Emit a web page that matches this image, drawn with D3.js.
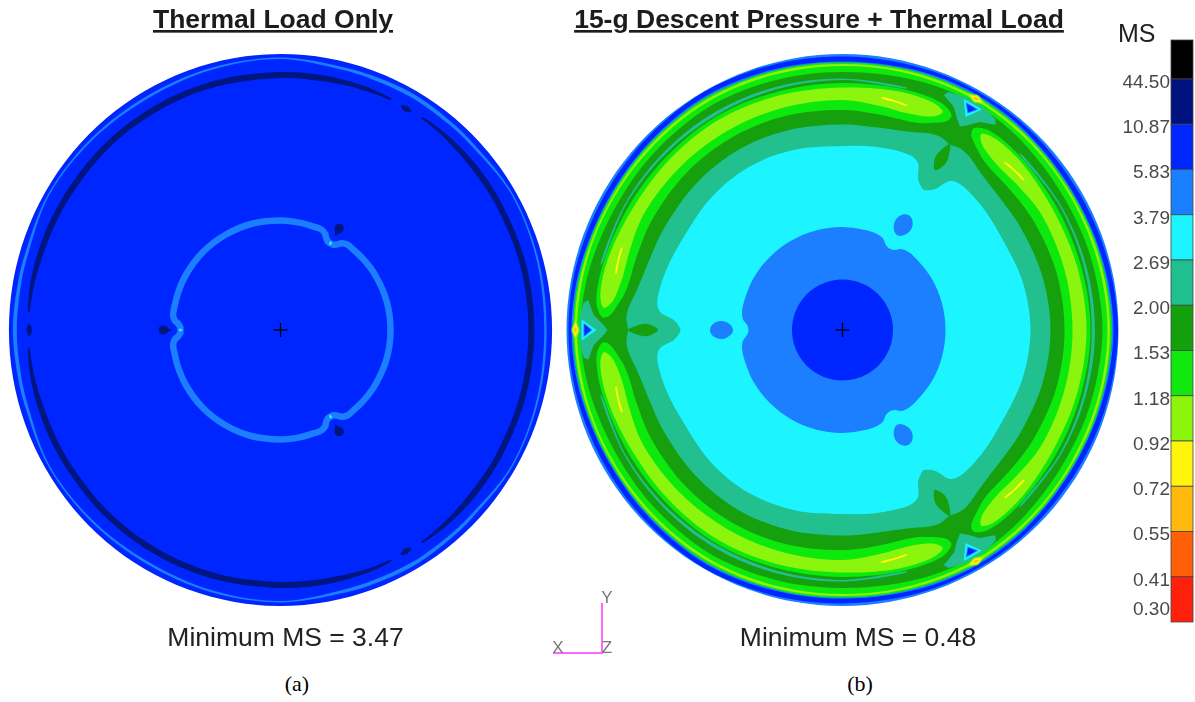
<!DOCTYPE html>
<html>
<head>
<meta charset="utf-8">
<script src="https://cdnjs.cloudflare.com/ajax/libs/d3/7.8.5/d3.min.js"></script>
<style>
  html, body { margin: 0; padding: 0; background: #fff; }
  svg { display: block; }
  text { font-family: "Liberation Sans", Arial, sans-serif; }
</style>
</head>
<body>
<div id="chart"></div>
<script>
///////////////////Chart data////////////////////////////
// legend, top to bottom
const msLabels = ["44.50","10.87","5.83","3.79","2.69","2.00","1.53","1.18","0.92","0.72","0.55","0.41","0.30"];
const bandColors = ["#000000","#00127f","#0026ff","#1a7fff","#1cf5ff","#20bf8f","#14a00c","#10e80e","#8cf50c","#fff50c","#ffb90c","#ff5f08","#ff200c"];

// margin read for each region of the plots, looked up through the legend bands
const msNavy = 20, msBlue = 8, msMedium = 4.5, msCyan = 3, msTeal = 2.3, msDark = 1.8,
      msBright = 1.3, msLight = 1.05, msYellow = 0.8, msAmber = 0.6;

// the plate repeats every 120 deg, so contours are read for one half sector only
// pairs are [degrees away from the stiffener spoke, radius where the disc edge is 276]
const ringPhi = [0,10,20,30,40,50,60];
const rimOuter = [276,276,276,276,276,276,276];
const rimBlue = [274,274,273.5,273.5,274,274.5,275.5];
const rimInner = [271,270.5,269,268.5,269,270,271];
const greenOuter = [269.5,269,268,267.5,268,268.5,269.5];
const lightOuter = [268,267.5,266.5,266,266.5,267,267.5];
const lightInner = [265.5,265,264.5,264,264,264.5,265];
const darkOuter = [262,261,259,258,258.5,259,260];

const tealEdge = [[0,214.5],[3,216.5],[6,215],[10,210.5],[15,207],[20,205.5],[30,205.5],[45,207],[60,208]];
const cyanEdge = [[0,162],[1.5,164],[3.4,169],[5.6,183],[8,187],[12,187.5],[20,186],[30,184],[45,186.5],[60,188]];
const mediumEdge = [[0,94],[3,95.5],[6,100],[10,102],[15,102.5],[30,103],[45,103],[60,103]];
const coreEdge = [[0,50.5],[15,50.5],[30,50.5],[45,50.5],[60,50.5]];

// long lobes between spokes
const lobeBrightOut = [[3,240],[4.5,245],[7,248],[15,248.5],[30,247],[45,247],[60,248]];
const lobeBrightIn = [[3.4,234],[5,229],[7,225],[9,221.5],[12,219],[20,218.5],[30,220],[45,221.5],[60,222]];
const lobeLightOut = [[5.3,240],[6.5,243],[9,245],[17,245],[30,242.5],[45,243],[60,244]];
const lobeLightIn = [[5.8,236],[7,232],[9,229],[14,226],[20,227],[30,230],[45,230],[60,230]];
const tealLineOut = [[15,250.5],[30,251.5],[45,252],[60,252.5]];
const tealLineIn = [[15,250],[30,250],[45,249.5],[60,249.2]];
const streakOut = [[14,234],[17,235.5],[20.5,236]];
const streakIn = [[14,233],[17,233.8],[20.5,235]];

// small shapes sitting on the spoke (one half, mirrored when drawn)
const leafHalf = [[0,184.5],[1.1,189],[1.8,197],[1.2,206],[0,214.5]];
const starHalf = [[0,235],[1.5,240],[3.4,249],[6.7,256],[6,260.5],[3,263],[0,264]];
const blobHalf = [[0,109.5],[2,111],[3.8,116],[4.3,121],[3.8,126],[2,131],[0,132.5]];
const triCyanHalf = [[0,246],[2.3,261],[0,261]];
const triMediumHalf = [[0,250],[1.6,259],[0,259]];
const triBlueHalf = [[0,251.5],[1.2,258],[0,258]];
const nodeLightHalf = [[0,263],[1,264.5],[2.2,267],[1,269.5],[0,271]];
const nodeYellowHalf = [[0,264.5],[0.7,265.5],[1.5,267],[0.7,268.5],[0,269.5]];
const nodeOrangeHalf = [[0,265.8],[0.4,266.3],[0.6,267],[0.4,267.7],[0,268.2]];

// panel (a)
const aRingOut = [[0,272],[10,271],[17,270.5],[30,272.5],[45,271.5],[60,270.5]];
const aRingIn = [[0,268],[10,267.5],[17,267.5],[30,271],[45,269.5],[60,268]];
const aDarkOut = [[4,257],[7,258],[12,258.5],[20,258.5],[30,258],[45,258],[60,258]];
const aDarkIn = [[4,256],[7,255],[12,254],[20,252.5],[30,252],[45,252],[60,252]];
const aDashHalf = [[0,252.5],[1.4,255.5],[0,258]];
const aInnerRing = [[0,100],[2,100.5],[4,103.5],[5,106],[8,108.5],[12,108.5],[20,109],[30,109.5],[45,110],[60,110]];
const aBlobHalf = [[0,109],[0.8,112],[2,115],[2.2,118],[1.4,121],[0,122]];
const aSpeckHalf = [[0,98],[0.8,100],[0,102]];

const spokes = [30,150,270];    // clockwise from the top
const lobeCenters = [90,210,330];

///////////////////Scales////////////////////////////
var colorScale = d3.scaleThreshold()
    .domain(msLabels.slice(0,12).map(Number).reverse())
    .range(bandColors.slice().reverse());
var rScale = d3.scaleLinear().domain([0,276]).range([0,276]);
var legendY = d3.scaleLinear().domain([0,12]).range([79,622]);

var radial = d3.lineRadial()
    .angle(function(d) { return d[0] * Math.PI / 180; })
    .radius(function(d) { return rScale(d[1]); });
var smooth = d3.curveCatmullRomClosed.alpha(0.5);

// full closed contour from a half sector
function around(edge) {
  var pts = [];
  spokes.forEach(function(s) {
    for (var i = edge.length - 2; i >= 1; i--) pts.push([s - edge[i][0], edge[i][1]]);
    edge.forEach(function(e) { pts.push([s + e[0], e[1]]); });
  });
  return pts;
}
// closed shape centred on a spoke
function mirrored(half, s) {
  var pts = half.map(function(h) { return [s + h[0], h[1]]; });
  for (var i = half.length - 1; i >= 0; i--) {
    if (half[i][0] > 0) pts.push([s - half[i][0], half[i][1]]);
  }
  return pts;
}
// band that runs from one spoke to the next
function lobe(outer, inner, c) {
  var pts = [];
  outer.forEach(function(p) { pts.push([c - (60 - p[0]), p[1]]); });
  for (var i = outer.length - 2; i >= 0; i--) pts.push([c + (60 - outer[i][0]), outer[i][1]]);
  inner.forEach(function(p) { pts.push([c + (60 - p[0]), p[1]]); });
  for (var j = inner.length - 2; j >= 0; j--) pts.push([c - (60 - inner[j][0]), inner[j][1]]);
  return pts;
}
function streak(outer, inner, s, sign) {
  var pts = outer.map(function(p) { return [s + sign * p[0], p[1]]; });
  inner.slice().reverse().forEach(function(p) { pts.push([s + sign * p[0], p[1]]); });
  return pts;
}
function rim(values) { return d3.zip(ringPhi, values); }

///////////////////Drawing////////////////////////////
var svg = d3.select("#chart").append("svg").attr("width",1195).attr("height",702);

var defs = svg.append("defs");
defs.append("filter").attr("id","soft").attr("x","-5%").attr("y","-5%").attr("width","110%").attr("height","110%")
    .append("feGaussianBlur").attr("stdDeviation",0.55);
defs.append("filter").attr("id","softText").attr("x","-5%").attr("y","-20%").attr("width","110%").attr("height","140%")
    .append("feGaussianBlur").attr("stdDeviation",0.35);

function fillShape(g, pts, ms, curve) {
  g.append("path")
    .attr("d", radial.curve(curve || smooth)(pts))
    .attr("fill", colorScale(ms));
}

// ----- panel (b)
var b = svg.append("g").attr("transform","translate(842.5,330)").attr("filter","url(#soft)");
fillShape(b, around(rim(rimOuter)), msMedium);
fillShape(b, around(rim(rimBlue)), msBlue);
fillShape(b, around(rim(rimInner)), msMedium);
fillShape(b, around(rim(greenOuter)), msBright);
fillShape(b, around(rim(lightOuter)), msLight);
fillShape(b, around(rim(lightInner)), msBright);
fillShape(b, around(rim(darkOuter)), msDark);

lobeCenters.forEach(function(c) {
  fillShape(b, lobe(tealLineOut, tealLineIn, c), msTeal);
  fillShape(b, lobe(lobeBrightOut, lobeBrightIn, c), msBright);
  fillShape(b, lobe(lobeLightOut, lobeLightIn, c), msLight);
});
spokes.forEach(function(s) {
  fillShape(b, streak(streakOut, streakIn, s, 1), msYellow);
  fillShape(b, streak(streakOut, streakIn, s, -1), msYellow);
  fillShape(b, mirrored(starHalf, s), msTeal, d3.curveLinearClosed);
  fillShape(b, mirrored(triCyanHalf, s), msCyan, d3.curveLinearClosed);
  fillShape(b, mirrored(triMediumHalf, s), msMedium, d3.curveLinearClosed);
  fillShape(b, mirrored(triBlueHalf, s), msBlue, d3.curveLinearClosed);
  fillShape(b, mirrored(nodeLightHalf, s), msLight);
  fillShape(b, mirrored(nodeYellowHalf, s), msYellow);
  fillShape(b, mirrored(nodeOrangeHalf, s), msAmber);
});

fillShape(b, around(tealEdge), msTeal);
fillShape(b, around(cyanEdge), msCyan);
spokes.forEach(function(s) {
  fillShape(b, mirrored(leafHalf, s), msDark);
  fillShape(b, mirrored(blobHalf, s), msMedium);
});
fillShape(b, around(mediumEdge), msMedium);
fillShape(b, around(coreEdge), msBlue);

// ----- panel (a), the outer part is a touch narrower than it is tall
var a = svg.append("g").attr("transform","translate(280.5,330)").attr("filter","url(#soft)");
var aOuter = a.append("g").attr("transform","scale(0.984,1)");
fillShape(aOuter, around(rim(rimOuter)), msBlue);
// light rim ring closes over the spokes
fillShape(aOuter, around(aRingOut), msMedium);
fillShape(aOuter, around(aRingIn), msBlue);
lobeCenters.forEach(function(c) { fillShape(aOuter, lobe(aDarkOut, aDarkIn, c), msNavy); });
spokes.forEach(function(s) { fillShape(aOuter, mirrored(aDashHalf, s), msNavy); });

a.append("path")
    .attr("d", radial.curve(smooth)(around(aInnerRing)))
    .attr("fill","none").attr("stroke", colorScale(msMedium)).attr("stroke-width",6.5);
spokes.forEach(function(s) {
  fillShape(a, mirrored(aBlobHalf, s), msNavy);
  fillShape(a, mirrored(aSpeckHalf, s), msCyan);
});

// centre crosses
[[280.5,330],[842.5,330]].forEach(function(c) {
  var g = svg.append("g").attr("transform","translate(" + c[0] + "," + c[1] + ")")
      .attr("stroke","#000").attr("stroke-width",1.3);
  g.append("line").attr("x1",-7).attr("x2",7);
  g.append("line").attr("y1",-7).attr("y2",7);
});

// ----- legend
var legend = svg.append("g");
legend.selectAll("rect").data(bandColors).enter().append("rect")
    .attr("x",1171).attr("width",22)
    .attr("y", function(d,i) { return i == 0 ? 40 : legendY(i-1); })
    .attr("height", function(d,i) { return i == 0 ? legendY(0) - 40 : legendY(i) - legendY(i-1); })
    .attr("fill", function(d) { return d; })
    .attr("stroke","#444").attr("stroke-width",0.8);
legend.selectAll("text").data(msLabels).enter().append("text")
    .attr("x",1170)
    .attr("y", function(d,i) { return i == 12 ? 608 : legendY(i) + 2; })
    .attr("dy","0.36em").attr("text-anchor","end")
    .attr("font-size",19).attr("fill","#4a4a4a")
    .attr("filter","url(#softText)")
    .text(function(d) { return d; });
svg.append("text").attr("x",1118).attr("y",42).attr("font-size",25).attr("fill","#222")
    .attr("filter","url(#softText)").text("MS");

// ----- titles and captions
function title(x, txt) {
  svg.append("text").attr("x",x).attr("y",28).attr("text-anchor","middle")
     .attr("font-size",26.5).attr("font-weight","bold").attr("fill","#1a1a1a")
     .attr("text-decoration","underline").attr("filter","url(#softText)").text(txt);
}
title(273,"Thermal Load Only");
title(819,"15-g Descent Pressure + Thermal Load");

svg.append("text").attr("x",285.5).attr("y",646).attr("text-anchor","middle")
    .attr("font-size",26.5).attr("fill","#222").attr("filter","url(#softText)").text("Minimum MS = 3.47");
svg.append("text").attr("x",858).attr("y",646).attr("text-anchor","middle")
    .attr("font-size",26.5).attr("fill","#222").attr("filter","url(#softText)").text("Minimum MS = 0.48");

svg.append("text").attr("x",297).attr("y",691).attr("text-anchor","middle")
    .style("font-family","'Liberation Serif', serif").attr("font-size",22).attr("fill","#000").text("(a)");
svg.append("text").attr("x",860).attr("y",691).attr("text-anchor","middle")
    .style("font-family","'Liberation Serif', serif").attr("font-size",22).attr("fill","#000").text("(b)");

// ----- axis triad
var triad = svg.append("g");
triad.append("path").attr("d", d3.line()([[553,653],[602,653],[602,603]]))
    .attr("fill","none").attr("stroke","#ff66ff").attr("stroke-width",2);
[["Y",607,603],["X",558,653],["Z",607,653]].forEach(function(t) {
  triad.append("text").attr("x",t[1]).attr("y",t[2]).attr("text-anchor","middle")
      .attr("font-size",17).attr("fill","#777").attr("filter","url(#softText)").text(t[0]);
});
</script>
</body>
</html>
